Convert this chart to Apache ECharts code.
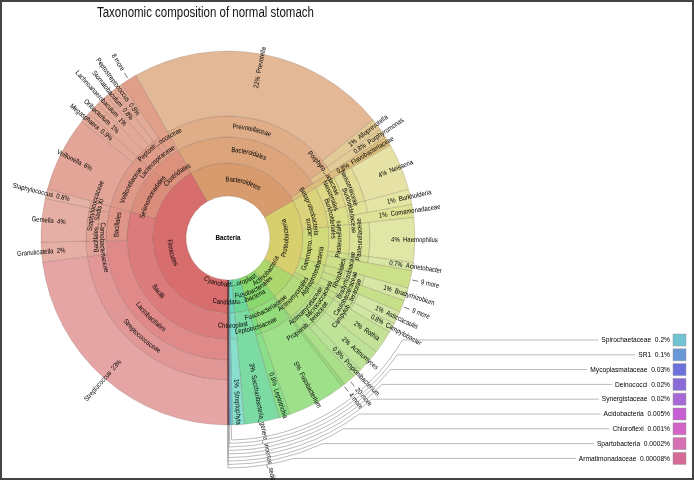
<!DOCTYPE html>
<html><head><meta charset="utf-8">
<script src="https://cdn.jsdelivr.net/npm/echarts@6/dist/echarts.min.js"></script>
<style>html,body{margin:0;padding:0;background:#fff}#c{width:694px;height:480px}</style>
</head><body><div id="c"></div>
<script>
// ================= DATA =================
const rootName = 'Bacteria';
const titleText = 'Taxonomic composition of normal stomach';
const taxa = [
 'Firmicutes','Bacilli','Lactobacillales','Streptococcaceae','Streptococcus','Carnobacteriaceae','Granulicatella','Bacillales','Bacillales_Incertae Sedis XI','Gemella','Staphylococcaceae','Staphylococcus','Selenomonadales','Veillonellaceae','Veillonella','Megasphaera','Clostridiales','Lachnospiraceae','Oribacterium','Lachnoanaerobaculum','Stomatobaculum','Peptostreptococcaceae','Peptostreptococcus','8 more',
 'Bacteroidetes','Bacteroidales','Prevotellaceae','Prevotella','Alloprevotella','Porphyromonadaceae','Porphyromonas','Flavobacteriaceae',
 'Proteobacteria','Betaproteobacteria','Neisseriales','Neisseriaceae','Neisseria','Burkholderiales','Burkholderiaceae','Burkholderia','Comamonadaceae','Gammaproteobacteria','Pasteurellales','Pasteurellaceae','Haemophilus','Pseudomonadales','Moraxellaceae','Acinetobacter','9 more','Alphaproteobacteria','Rhizobiales','Bradyrhizobiaceae','Bradyrhizobium','9 more','Caulobacterales','Caulobacteraceae','Asticcacaulis','Epsilonproteobacteria','Campylobacterales','Campylobacteraceae','Campylobacter',
 'Actinobacteria','Actinomycetales','Micrococcaceae','Rothia','Actinomycetaceae','Actinomyces','Propionibacteriaceae','Propionibacterium','20 more',
 'Fusobacteriales','4 more','Fusobacteriaceae','Fusobacterium','Leptotrichiaceae','Leptotrichia',
 'Candidatus Saccharibacteria','Saccharibacteria_genera_incertae_sedis',
 'Cyanobacteria/Chloroplast','Chloroplast','Streptophyta'
];
const parents = [
 'Bacteria','Firmicutes','Bacilli','Lactobacillales','Streptococcaceae','Lactobacillales','Carnobacteriaceae','Bacilli','Bacillales','Bacillales_Incertae Sedis XI','Bacillales','Staphylococcaceae','Firmicutes','Selenomonadales','Veillonellaceae','Veillonellaceae','Firmicutes','Clostridiales','Lachnospiraceae','Lachnospiraceae','Lachnospiraceae','Clostridiales','Peptostreptococcaceae','Clostridiales',
 'Bacteria','Bacteroidetes','Bacteroidales','Prevotellaceae','Prevotellaceae','Bacteroidales','Porphyromonadaceae','Bacteroidetes',
 'Bacteria','Proteobacteria','Betaproteobacteria','Neisseriales','Neisseriaceae','Betaproteobacteria','Burkholderiales','Burkholderiaceae','Burkholderiales','Proteobacteria','Gammaproteobacteria','Pasteurellales','Pasteurellaceae','Gammaproteobacteria','Pseudomonadales','Moraxellaceae','Gammaproteobacteria','Proteobacteria','Alphaproteobacteria','Rhizobiales','Bradyrhizobiaceae','Alphaproteobacteria','Alphaproteobacteria','Caulobacterales','Caulobacteraceae','Proteobacteria','Epsilonproteobacteria','Campylobacterales','Campylobacteraceae',
 'Bacteria','Actinobacteria','Actinomycetales','Micrococcaceae','Actinomycetales','Actinomycetaceae','Actinomycetales','Propionibacteriaceae','Actinomycetales',
 'Bacteria','Fusobacteriales','Fusobacteriales','Fusobacteriaceae','Fusobacteriales','Leptotrichiaceae',
 'Bacteria','Candidatus Saccharibacteria',
 'Bacteria','Cyanobacteria/Chloroplast','Chloroplast'
];
const values = [
 null,null,null,null,22.6,null,1.7,null,null,3.7,null,0.8,null,null,6.4,0.9,null,null,1.1,1.0,0.8,null,0.8,1.4,
 null,null,null,22.0,1.0,null,0.8,0.8,
 null,null,null,null,4.0,null,null,1.3,1.1,null,null,null,3.8,null,null,0.7,1.5,null,null,null,1.1,1.0,null,null,1.1,null,null,null,0.8,
 null,null,null,2.0,null,2.0,null,0.8,1.0,
 null,0.3,null,5.0,null,0.9,
 null,3.0,
 null,null,1.0
];
// very small taxa listed in the key
const minorTaxa = ['Spirochaetaceae','SR1','Mycoplasmataceae','Deinococci','Synergistaceae','Acidobacteria','Chloroflexi','Spartobacteria','Armatimonadaceae'];
const minorValues = [0.2,0.1,0.03,0.02,0.02,0.005,0.001,0.0002,0.00008];

// ================= STYLE / LAYOUT =================
const FONT = "'Liberation Sans',Arial,sans-serif";
const SX = 0.85;            // horizontal text compression (narrow look)
const CENTER = [228, 238];
const OUTER = 187;
const RING = [42, 75, 101, 122, 142];
const LABEL_SIZE = 7;
const MINW = 55;
const HUE = {
  'Firmicutes':[0,16], 'Bacteroidetes':[26,42], 'Proteobacteria':[55,82], 'Actinobacteria':[84,98],
  'Fusobacteriales':[104,122], 'Candidatus Saccharibacteria':[145,146], 'Cyanobacteria/Chloroplast':[168,172]
};
const MINOR_COLORS = ['#70c4d2','#6a97d6','#6d72da','#8a6bd8','#a869d6','#c65ed4','#d264c6','#d66fb1','#d46a95'];
const KEY_Y0 = 340, KEY_DY = 14.8, KEY_R0 = 202, KEY_DR = 3.5, KEY_TEXT_X = 670, KEY_BOX_X = 673, KEY_SIZE = 8, KEY_SX = 0.83;

// ================= BUILD TREE =================
const nodes = taxa.map((name, i) => ({name, parent: parents[i], value: values[i], children: []}));
minorTaxa.forEach((name, i) => nodes.push({name, parent: rootName, value: minorValues[i], children: [], minor: i}));
const root = {name: rootName, children: []};
const byName = {};
nodes.forEach(n => { if (n.value == null) byName[n.name] = n; });
nodes.forEach(n => { (n.parent === rootName ? root : byName[n.parent]).children.push(n); });
function sum(n) { n.total = n.children.length ? n.children.reduce((s, c) => s + sum(c), 0) : n.value; return n.total; }
sum(root);
const TOTAL = root.total;
function layout(n, start, depth, phylum) {
  n.start = start; n.end = start + n.total; n.depth = depth; n.phylum = phylum; n.leaf = !n.children.length;
  let s = start;
  n.children.forEach(c => { layout(c, s, depth + 1, depth === 0 ? c : phylum); s += c.total; });
}
layout(root, 0, 0, null);
const drawn = nodes;
const minorNodes = nodes.filter(n => n.minor != null);

function pct(v) { const p = v / TOTAL * 100; return (p >= 1 ? Math.round(p) : Number(p.toPrecision(1))) + '%'; }
function color(n) {
  if (n.minor != null) return MINOR_COLORS[n.minor];
  const ph = n.phylum, h = HUE[ph.name];
  const f = (n.start - ph.start) / ph.total;
  const hue = h[0] + (h[1] - h[0]) * f;
  return 'hsl(' + hue.toFixed(1) + ',57%,' + (60 + 3.5 * n.depth).toFixed(1) + '%)';
}
const mctx = document.createElement('canvas').getContext('2d');
function measure(t, size, sx) { mctx.font = (size || LABEL_SIZE) + 'px ' + FONT; return mctx.measureText(t).width * (sx || SX); }
function fitText(name, w) {
  if (measure(name) <= w) return name;
  for (let k = name.length - 1; k >= 4; k--) {
    const a = Math.ceil(k / 2), b = k - a;
    const t = name.slice(0, a) + '...' + name.slice(name.length - b);
    if (measure(t) <= w) return t;
  }
  return null;
}

function geom(params, api, s, e) {
  const cx = params.coordSys.cx, cy = params.coordSys.cy;
  const p0 = api.coord([OUTER, s]), p1 = api.coord([OUTER, e]);
  const a0 = Math.atan2(p0[1] - cy, p0[0] - cx);
  let d = Math.atan2(p1[1] - cy, p1[0] - cx) - a0;
  while (d < 0) d += 2 * Math.PI;
  if (d > Math.PI * 1.95) d = 0;
  return {cx, cy, a0, d};
}
function rpx(params, api, r) { const p = api.coord([r, 0]); return Math.hypot(p[0] - params.coordSys.cx, p[1] - params.coordSys.cy); }

function renderSector(params, api) {
  const n = drawn[api.value(4)];
  const g = geom(params, api, api.value(0), api.value(1));
  const r0 = rpx(params, api, RING[n.depth - 1]);
  const r1 = rpx(params, api, n.leaf ? OUTER : RING[n.depth]);
  return {type: 'sector', shape: {cx: g.cx, cy: g.cy, r0, r: r1, startAngle: g.a0, endAngle: g.a0 + g.d, clockwise: true},
    style: {fill: color(n), stroke: 'rgba(90,60,50,0.3)', lineWidth: 0.6}};
}
function txt(x, y, rot, text, align, size, sx) {
  return {type: 'text', x, y, rotation: rot, scaleX: sx || SX, silent: true,
    style: {text, fill: '#000', fontSize: size || LABEL_SIZE, fontFamily: FONT, align, verticalAlign: 'middle'}};
}
function curvedText(cx, cy, r, am, text, flip) {
  const chars = Array.from(text);
  const ws = chars.map(ch => measure(ch));
  const total = ws.reduce((a, b) => a + b, 0);
  let x = -total / 2;
  return chars.map((ch, i) => {
    const mid = x + ws[i] / 2; x += ws[i];
    const ang = flip ? am - mid / r : am + mid / r;
    const rot = -(ang + Math.PI / 2) + (flip ? Math.PI : 0);
    return txt(cx + r * Math.cos(ang), cy + r * Math.sin(ang), rot, ch, 'center');
  });
}
function angOverlap(p, q) {
  const TWO = 2 * Math.PI;
  let d = (q.am - p.am) % TWO;
  if (d > Math.PI) d -= TWO; if (d < -Math.PI) d += TWO;
  return Math.abs(d) < p.half + q.half;
}
let placements = null;
function computePlacements(params, api) {
  placements = {};
  const placed = [];
  const list = drawn.map((n, k) => ({n, k})).filter(o => !o.n.leaf).sort((a, b) => b.n.total - a.n.total);
  list.forEach(({n, k}) => {
    const g = geom(params, api, n.start, n.end);
    const rin = rpx(params, api, RING[n.depth - 1]), rout = rpx(params, api, RING[n.depth]);
    const rm = (rin + rout) / 2, am = g.a0 + g.d / 2, arc = rm * g.d;
    const texts = [];
    const t1 = fitText(n.name, Math.max(arc - 2, MINW)); if (t1) texts.push(t1);
    const t2 = fitText(n.name, arc - 2); if (t2 && t2 !== t1) texts.push(t2);
    const maxOff = (rout - rin) / 2 - 3;
    const offs = [0, -6, 6, -12, 12].filter(o => Math.abs(o) <= maxOff);
    for (const t of texts) {
      const w = measure(t);
      for (const o of offs) {
        const r = rm + o;
        const box = {r, am, half: (w / 2 + 2) / r};
        if (!placed.some(p => Math.abs(p.r - box.r) < 6 && angOverlap(p, box))) {
          placed.push(box);
          placements[k] = {r, am, t, flip: Math.sin(am) > 0};
          return;
        }
      }
    }
  });
}
function renderLabel(params, api) {
  if (!placements) computePlacements(params, api);
  const k = api.value(4);
  const n = drawn[k];
  let children = [];
  if (n.minor != null) return {type: 'group', children};
  const g = geom(params, api, api.value(0), api.value(1));
  const am = g.a0 + g.d / 2, ca = Math.cos(am), sa = Math.sin(am);
  const more = /^\d+ more$/.test(n.name);
  if (!n.leaf) {
    const p = placements[k];
    if (p) children = curvedText(g.cx, g.cy, p.r, p.am, p.t, p.flip);
  } else if (more) {
    const ro = rpx(params, api, OUTER);
    children.push({type: 'line', silent: true, shape: {x1: g.cx + (ro + 2) * ca, y1: g.cy + (ro + 2) * sa, x2: g.cx + (ro + 8) * ca, y2: g.cy + (ro + 8) * sa},
      style: {stroke: '#555', lineWidth: 0.8}});
    const right = ca >= 0;
    children.push(txt(g.cx + (ro + 11) * ca, g.cy + (ro + 11) * sa, right ? -am : -am + Math.PI, n.name, right ? 'left' : 'right'));
  } else {
    const rin = RING[n.depth - 1];
    const rl = rpx(params, api, rin + 0.47 * (OUTER - rin));
    if (rl * g.d >= 6) {
      const right = ca >= 0;
      const text = right ? pct(n.total) + '  ' + n.name : n.name + '  ' + pct(n.total);
      children.push(txt(g.cx + rl * ca, g.cy + rl * sa, right ? -am : -am + Math.PI, text, right ? 'left' : 'right'));
    }
  }
  return {type: 'group', children};
}
function renderKey(params, api) {
  const i = api.value(2);
  const n = minorNodes[i];
  const g = geom(params, api, api.value(0), api.value(1));
  const am = g.a0 + g.d / 2;
  const ro = rpx(params, api, OUTER);
  const rr = rpx(params, api, KEY_R0 + i * KEY_DR);
  const y = KEY_Y0 + i * KEY_DY;
  const b = Math.asin((y - g.cy) / rr);
  const label = n.name + '  ' + pct(n.total);
  const tw = measure(label, KEY_SIZE, KEY_SX);
  const lineStyle = {stroke: '#aaa', lineWidth: 0.8, fill: null};
  return {type: 'group', children: [
    {type: 'line', silent: true, shape: {x1: g.cx + ro * Math.cos(am), y1: g.cy + ro * Math.sin(am), x2: g.cx + rr * Math.cos(am), y2: g.cy + rr * Math.sin(am)}, style: lineStyle},
    {type: 'arc', silent: true, shape: {cx: g.cx, cy: g.cy, r: rr, startAngle: b, endAngle: am, clockwise: true}, style: lineStyle},
    {type: 'line', silent: true, shape: {x1: g.cx + rr * Math.cos(b), y1: y, x2: KEY_TEXT_X - tw - 3, y2: y}, style: lineStyle},
    Object.assign(txt(KEY_TEXT_X, y, 0, label, 'right', KEY_SIZE, KEY_SX), {}),
    {type: 'rect', silent: true, shape: {x: KEY_BOX_X, y: y - 6, width: 13, height: 12}, style: {fill: color(n), stroke: '#999', lineWidth: 0.5}}
  ]};
}

const sectorData = drawn.map((n, k) => [n.start, n.end, n.depth, n.leaf ? 1 : 0, k]);
const keyData = minorNodes.map((n, i) => [n.start, n.end, i]);

const chart = echarts.init(document.getElementById('c'), null, {renderer: 'canvas'});
chart.setOption({
  backgroundColor: '#fff',
  animation: false,
  polar: {center: CENTER, radius: [0, OUTER]},
  angleAxis: {type: 'value', min: 0, max: TOTAL, startAngle: -90, clockwise: true, show: false},
  radiusAxis: {type: 'value', min: 0, max: OUTER, show: false},
  graphic: [
    {type: 'rect', silent: true, shape: {x: 1, y: 1, width: 692, height: 478}, style: {fill: null, stroke: '#444', lineWidth: 2}},
    {type: 'text', silent: true, x: 97, y: 13.5, scaleX: 0.82, style: {text: titleText, fontSize: 14, fontFamily: FONT, fill: '#111', align: 'left', verticalAlign: 'middle'}},
    {type: 'text', silent: true, x: CENTER[0], y: CENTER[1], scaleX: SX, style: {text: rootName, fontSize: 7.5, fontWeight: 'bold', fontFamily: FONT, fill: '#000', align: 'center', verticalAlign: 'middle'}}
  ],
  series: [
    {type: 'custom', coordinateSystem: 'polar', silent: true, z: 2, renderItem: renderSector, encode: {angle: [0, 1], radius: 2}, data: sectorData},
    {type: 'custom', coordinateSystem: 'polar', silent: true, z: 3, renderItem: renderLabel, encode: {angle: [0, 1], radius: 2}, data: sectorData},
    {type: 'custom', coordinateSystem: 'polar', silent: true, z: 3, renderItem: renderKey, encode: {angle: [0, 1]}, data: keyData}
  ]
});
</script></body></html>
